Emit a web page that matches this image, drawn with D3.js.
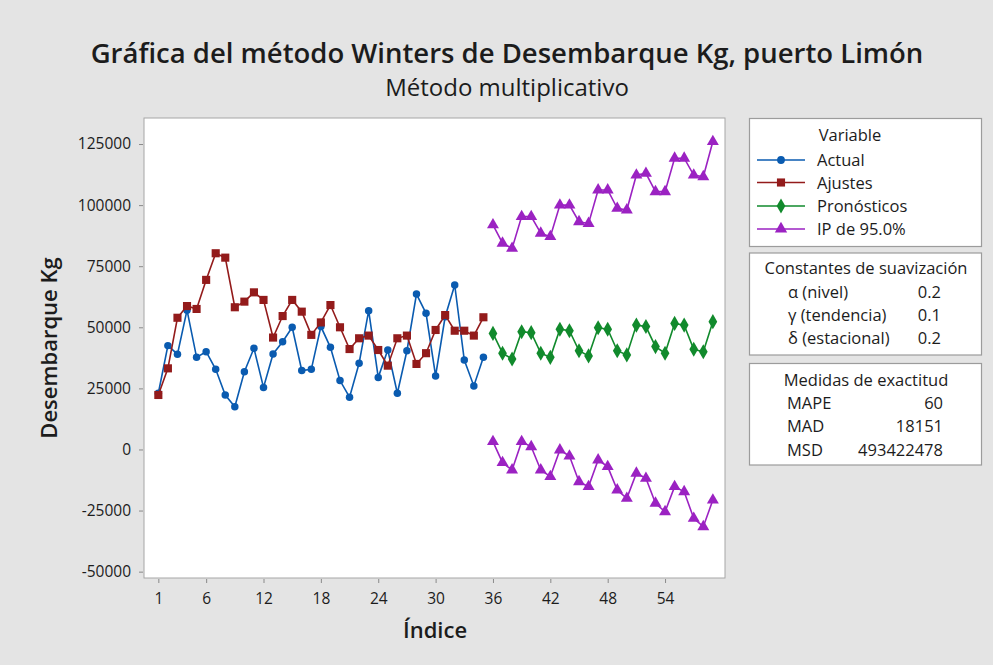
<!DOCTYPE html>
<html>
<head>
<meta charset="utf-8">
<script src="https://cdn.jsdelivr.net/npm/d3@7/dist/d3.min.js"></script>
<style>
  body { margin: 0; background: #e4e4e4; }
  svg { display: block; }
  text { font-family: "Open Sans", "Noto Sans", sans-serif; fill: #1c1c1c; }
</style>
</head>
<body>
<svg id="chart" width="993" height="665"></svg>
<script>
// Observed landings (Kg), periods 1..35
const actual = [23000, 42500, 39000, 57000, 37700, 40000, 32800, 22300, 17500, 31800,
                41400, 25400, 39100, 44100, 50000, 32300, 32800, 50300, 41800, 28200,
                21400, 35300, 56800, 29500, 40700, 23000, 40400, 63600, 55700, 30100,
                54300, 67300, 36600, 26000, 37700];
// Winters fitted values, periods 1..35
const fits = [22300, 33200, 53900, 58700, 57500, 69400, 80300, 78500, 58200, 60500,
              64300, 61200, 45800, 54600, 61200, 56400, 46900, 52000, 59100, 50000,
              41100, 45500, 46600, 40700, 34300, 45500, 46600, 35000, 39400, 48900,
              55000, 48600, 48600, 46600, 54100];
// Forecasts, periods 36..59
const forecastStart = 36;
const forecasts = [47500, 39400, 37000, 48200, 47800, 39400, 37700, 49200, 48600, 40400,
                   38300, 49800, 49200, 40400, 38700, 50900, 50300, 42100, 39400, 51600,
                   50900, 41000, 40000, 52300];
// 95% prediction interval bounds, periods 36..59
const piUpper = [91900, 84400, 82300, 95300, 95300, 88500, 87100, 100000, 100000, 93200,
                 92500, 106200, 106200, 98700, 98000, 112300, 113000, 105500, 105500, 119200,
                 119200, 112300, 111600, 126000];
const piLower = [3200, -5400, -8400, 3200, 1100, -8400, -11100, -200, -2700, -13200,
                 -15200, -4300, -7000, -16600, -20000, -9700, -11800, -22000, -25500, -15200,
                 -17300, -28200, -31600, -20700];

const xTicks = [1, 6, 12, 18, 24, 30, 36, 42, 48, 54];
const yTicks = [-50000, -25000, 0, 25000, 50000, 75000, 100000, 125000];

const titleText = "Gráfica del método Winters de Desembarque Kg, puerto Limón";
const subtitleText = "Método multiplicativo";
const xLabel = "Índice";
const yLabel = "Desembarque Kg";

const legendItems = ["Actual", "Ajustes", "Pronósticos", "IP de 95.0%"];
const smoothingLabels = ["α (nivel)", "γ (tendencia)", "δ (estacional)"];
const smoothingValues = ["0.2", "0.1", "0.2"];
const accuracyLabels = ["MAPE", "MAD", "MSD"];
const accuracyValues = ["60", "18151", "493422478"];

const colors = { actual: "#0a5bb0", fits: "#931b1b", fc: "#118a2c", pi: "#9b22c2" };

const svg = d3.select("#chart");
const plot = { left: 144, right: 725, top: 118, bottom: 578 };

const x = d3.scaleLinear().domain([-0.5, 60.27]).range([plot.left, plot.right]);
const y = d3.scaleLinear().domain([-52600, 135650]).range([plot.bottom, plot.top]);

// Titles
svg.append("text").attr("x", 507).attr("y", 63).attr("text-anchor", "middle")
  .attr("font-size", 27.5).attr("font-weight", 600).text(titleText);
svg.append("text").attr("x", 507).attr("y", 96).attr("text-anchor", "middle")
  .attr("font-size", 24).attr("font-weight", 500).text(subtitleText);

// Plot frame
svg.append("rect").attr("x", plot.left).attr("y", plot.top)
  .attr("width", plot.right - plot.left).attr("height", plot.bottom - plot.top)
  .attr("fill", "#ffffff").attr("stroke", "#a6a6a6").attr("stroke-width", 1);

// Axes
const xAxis = svg.append("g").attr("transform", `translate(0,${plot.bottom + 1})`)
  .call(d3.axisBottom(x).tickValues(xTicks).tickSize(4).tickSizeOuter(0).tickPadding(10));
const yAxis = svg.append("g").attr("transform", `translate(${plot.left - 1},0)`)
  .call(d3.axisLeft(y).tickValues(yTicks).tickSize(4).tickSizeOuter(0).tickPadding(8)
    .tickFormat(d => String(d)));
[xAxis, yAxis].forEach(g => {
  g.select(".domain").remove();
  g.selectAll(".tick line").attr("stroke", "#8a8a8a");
  g.selectAll(".tick text").attr("font-size", 15.5).attr("fill", "#1c1c1c")
    .attr("font-weight", 500)
    .style("font-family", '"Open Sans", "Noto Sans", sans-serif');
});

svg.append("text").attr("x", 435).attr("y", 638).attr("text-anchor", "middle")
  .attr("font-size", 22).attr("font-weight", 600).text(xLabel);
svg.append("text").attr("transform", "translate(57,348) rotate(-90)")
  .attr("text-anchor", "middle").attr("font-size", 22).attr("font-weight", 600).text(yLabel);

// Series
const line = d3.line().x(d => x(d.i)).y(d => y(d.v));
const toPts = (arr, start) => arr.map((v, k) => ({ i: start + k, v }));

const series = [
  { pts: toPts(actual, 1), color: colors.actual, symbol: d3.symbolCircle, size: 44 },
  { pts: toPts(fits, 1), color: colors.fits, symbol: d3.symbolSquare, size: 66 },
  { pts: toPts(forecasts, forecastStart), color: colors.fc, symbol: d3.symbolDiamond, size: 66 },
  { pts: toPts(piUpper, forecastStart), color: colors.pi, symbol: d3.symbolTriangle, size: 62 },
  { pts: toPts(piLower, forecastStart), color: colors.pi, symbol: d3.symbolTriangle, size: 62 }
];

const gPlot = svg.append("g");
series.forEach(s => {
  gPlot.append("path").datum(s.pts).attr("d", line)
    .attr("fill", "none").attr("stroke", s.color).attr("stroke-width", 1.6);
  gPlot.selectAll(null).data(s.pts).enter().append("path")
    .attr("transform", d => `translate(${x(d.i)},${y(d.v)})`)
    .attr("d", d3.symbol().type(s.symbol).size(s.size)).attr("fill", s.color);
});

// Side panels
const panelX = 749.5, panelW = 232;
const fs = 16.5;
function panel(y0, h) {
  svg.append("rect").attr("x", panelX).attr("y", y0).attr("width", panelW).attr("height", h)
    .attr("fill", "#ffffff").attr("stroke", "#9c9c9c").attr("stroke-width", 1.2);
}

panel(118.5, 128);
svg.append("text").attr("x", 850).attr("y", 141).attr("text-anchor", "middle")
  .attr("font-size", fs).text("Variable");
const legendSymbols = [
  { color: colors.actual, symbol: d3.symbolCircle, size: 48 },
  { color: colors.fits, symbol: d3.symbolSquare, size: 66 },
  { color: colors.fc, symbol: d3.symbolDiamond, size: 66 },
  { color: colors.pi, symbol: d3.symbolTriangle, size: 66 }
];
const legendRowY = [160, 182.5, 206, 229];
legendItems.forEach((name, k) => {
  const ly = legendRowY[k];
  const sym = legendSymbols[k];
  svg.append("line").attr("x1", 757).attr("x2", 805).attr("y1", ly).attr("y2", ly)
    .attr("stroke", sym.color).attr("stroke-width", 1.6);
  svg.append("path").attr("transform", `translate(781,${ly})`)
    .attr("d", d3.symbol().type(sym.symbol).size(sym.size)).attr("fill", sym.color);
  svg.append("text").attr("x", 817).attr("y", ly + 6).attr("font-size", fs).text(name);
});

panel(253, 102);
svg.append("text").attr("x", 866).attr("y", 274).attr("text-anchor", "middle")
  .attr("font-size", fs).text("Constantes de suavización");
smoothingLabels.forEach((lab, k) => {
  const ly = 297.5 + k * 23.3;
  svg.append("text").attr("x", 788).attr("y", ly).attr("font-size", fs).text(lab);
  svg.append("text").attr("x", 941).attr("y", ly).attr("text-anchor", "end")
    .attr("font-size", fs).text(smoothingValues[k]);
});

panel(363.5, 101.5);
svg.append("text").attr("x", 866).attr("y", 385.5).attr("text-anchor", "middle")
  .attr("font-size", fs).text("Medidas de exactitud");
accuracyLabels.forEach((lab, k) => {
  const ly = 409 + k * 23.3;
  svg.append("text").attr("x", 787).attr("y", ly).attr("font-size", fs).text(lab);
  svg.append("text").attr("x", 943).attr("y", ly).attr("text-anchor", "end")
    .attr("font-size", fs).text(accuracyValues[k]);
});
</script>
</body>
</html>
